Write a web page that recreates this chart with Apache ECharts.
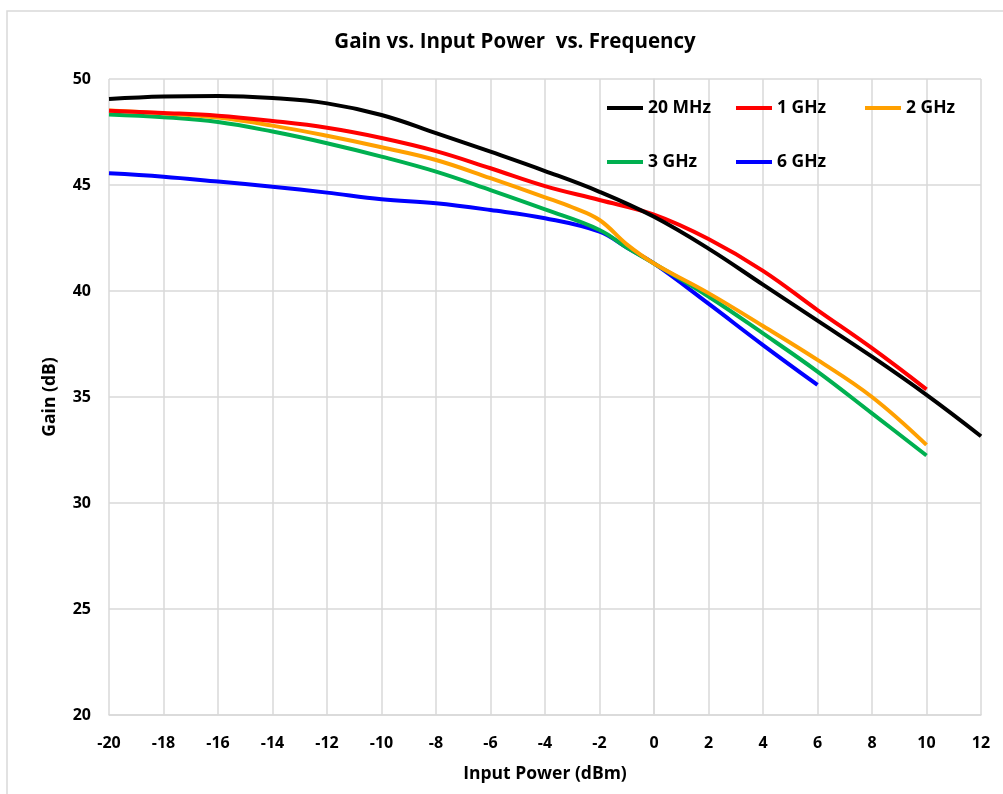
<!DOCTYPE html>
<html>
<head>
<meta charset="utf-8">
<script src="https://cdn.jsdelivr.net/npm/echarts@6/dist/echarts.min.js"></script>
<style>
html,body{margin:0;padding:0;background:#fff;}
#c{width:1003px;height:794px;}
</style>
</head>
<body>
<div id="c"></div>
<script>
var seriesNames = ['20 MHz', '1 GHz', '2 GHz', '3 GHz', '6 GHz'];
var xTicks = [-20,-18,-16,-14,-12,-10,-8,-6,-4,-2,0,2,4,6,8,10,12];
var yTicks = [20,25,30,35,40,45,50];

var x20MHz = [-20,-18,-16,-14,-12,-10,-8,-6,-4,-2,0,2,4,6,8,10,12];
var g20MHz = [49.06,49.17,49.2,49.1,48.85,48.3,47.45,46.57,45.66,44.68,43.5,42.0,40.3,38.6,36.9,35.1,33.15];

var x1GHz = [-20,-18,-16,-14,-12,-10,-8,-6,-4,-2,0,2,4,6,8,10];
var g1GHz = [48.5,48.4,48.27,48.02,47.7,47.22,46.6,45.79,44.95,44.29,43.6,42.45,40.95,39.1,37.3,35.36];

var x2GHz = [-20,-18,-16,-14,-12,-10,-8,-6,-4,-3,-2,-1,0,2,4,6,8,10];
var g2GHz = [48.52,48.38,48.18,47.8,47.32,46.78,46.18,45.32,44.42,43.95,43.35,42.2,41.3,39.9,38.35,36.75,35.0,32.74];

var x3GHz = [-20,-18,-16,-14,-12,-10,-8,-6,-4,-2,-1,0,2,4,6,8,10];
var g3GHz = [48.33,48.2,47.97,47.52,46.97,46.34,45.63,44.76,43.85,42.88,42.05,41.3,39.74,38.0,36.2,34.23,32.24];

var x6GHz = [-20,-18,-16,-14,-12,-10,-8,-6,-4,-2,-1,0,2,4,6];
var g6GHz = [45.55,45.39,45.16,44.92,44.64,44.33,44.14,43.82,43.43,42.8,42.05,41.3,39.4,37.45,35.57];

var colors = ['#000000', '#ff0000', '#ffa000', '#00b050', '#0000ff'];
var xs = [x20MHz, x1GHz, x2GHz, x3GHz, x6GHz];
var gs = [g20MHz, g1GHz, g2GHz, g3GHz, g6GHz];

function pairs(xa, ya) {
  return xa.map(function (x, i) { return [x, ya[i]]; });
}

var FONT = 'Open Sans';
var legendPos = [[607, 97], [736, 97], [865, 97], [607, 151], [736, 151]];

var legends = seriesNames.map(function (n, i) {
  return {
    data: [n],
    left: legendPos[i][0],
    top: legendPos[i][1],
    padding: 0,
    icon: 'rect',
    itemWidth: 36,
    itemHeight: 4,
    selectedMode: false,
    textStyle: {fontFamily: FONT, fontWeight: 'bold', fontSize: 17.5, color: '#000', lineHeight: 22}
  };
});

var chart = echarts.init(document.getElementById('c'), null, {renderer: 'canvas'});
chart.setOption({
  animation: false,
  backgroundColor: '#fff',
  color: colors,
  title: {
    text: 'Gain vs. Input Power  vs. Frequency',
    left: 510,
    top: 27,
    textAlign: 'center',
    textStyle: {fontFamily: FONT, fontWeight: 'bold', fontSize: 20.5, color: '#000'}
  },
  legend: legends,
  graphic: [{
    type: 'rect',
    shape: {x: 7, y: 11, width: 1010, height: 800},
    style: {fill: 'none', stroke: '#d9d9d9', lineWidth: 1.5},
    silent: true,
    z: -10
  }],
  grid: {left: 109, right: 22, top: 79, bottom: 79, containLabel: false},
  xAxis: {
    type: 'value',
    min: -20, max: 12, interval: 2,
    name: 'Input Power (dBm)',
    nameLocation: 'middle',
    nameGap: 50,
    nameTextStyle: {fontFamily: FONT, fontWeight: 'bold', fontSize: 17.5, color: '#000'},
    axisLine: {show: true, lineStyle: {color: '#d9d9d9', width: 1.5}},
    axisTick: {show: false},
    axisLabel: {fontFamily: FONT, fontWeight: 'bold', fontSize: 16, color: '#000', margin: 20,
      formatter: function (v) { return xTicks.indexOf(v) >= 0 ? String(v) : ''; }},
    splitLine: {show: true, lineStyle: {color: '#d9d9d9', width: 1.5}}
  },
  yAxis: {
    type: 'value',
    min: 20, max: 50, interval: 5,
    name: 'Gain (dB)',
    nameLocation: 'middle',
    nameGap: 50,
    nameRotate: 90,
    nameTextStyle: {fontFamily: FONT, fontWeight: 'bold', fontSize: 17.5, color: '#000'},
    axisLine: {show: true, lineStyle: {color: '#d9d9d9', width: 1.5}},
    axisTick: {show: false},
    axisLabel: {fontFamily: FONT, fontWeight: 'bold', fontSize: 16, color: '#000', margin: 18,
      formatter: function (v) { return yTicks.indexOf(v) >= 0 ? String(v) : ''; }},
    splitLine: {show: true, lineStyle: {color: '#d9d9d9', width: 1.5}}
  },
  series: seriesNames.map(function (n, i) {
    return {
      name: n,
      type: 'line',
      data: pairs(xs[i], gs[i]),
      smooth: 0.4,
      showSymbol: false,
      symbol: 'none',
      lineStyle: {color: colors[i], width: 4},
      itemStyle: {color: colors[i]},
      z: 10 - i
    };
  })
});
</script>
</body>
</html>
